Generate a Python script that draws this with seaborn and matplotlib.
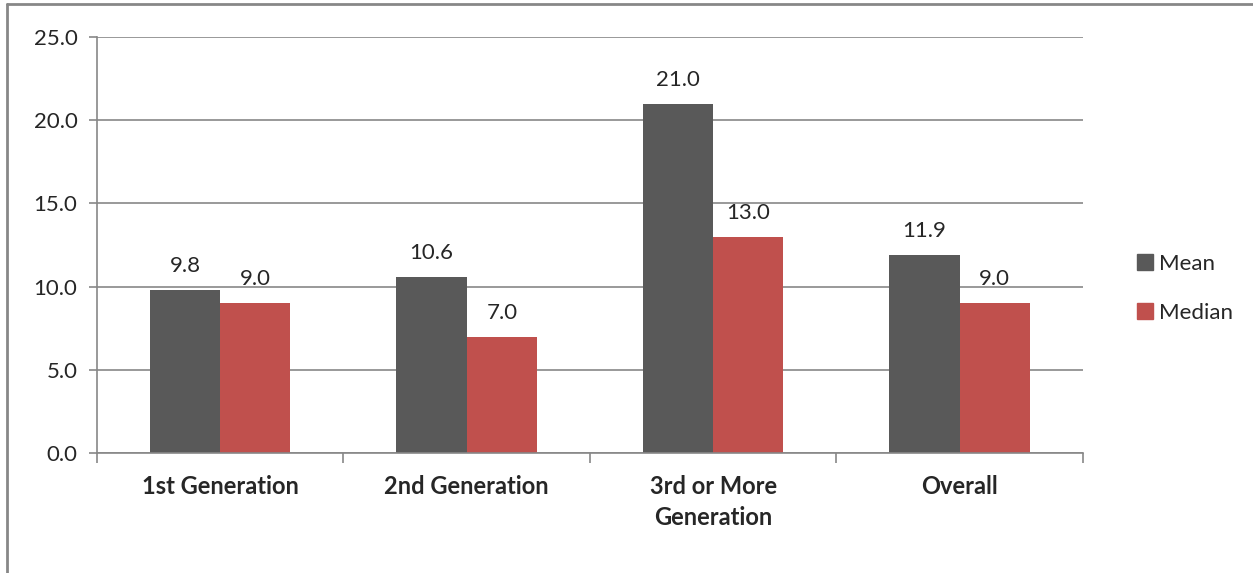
import pandas as pd
import matplotlib.pyplot as plt
import seaborn as sns
from matplotlib.lines import Line2D

categories = ["1st Generation", "2nd Generation", "3rd or More\nGeneration", "Overall"]
mean_vals = [9.8, 10.6, 21.0, 11.9]
median_vals = [9.0, 7.0, 13.0, 9.0]
series = ["Mean", "Median"]
colors = {"Mean": "#595959", "Median": "#C0504D"}

df = pd.DataFrame({
    "category": categories * 2,
    "value": mean_vals + median_vals,
    "stat": ["Mean"] * 4 + ["Median"] * 4,
})

sns.set_style("white")
plt.rcParams["font.family"] = ["Lato", "DejaVu Sans"]
fs = 16

fig = plt.figure(figsize=(12.53, 5.73), dpi=100)
ax = fig.add_axes([0.0774, 0.2094, 0.7869, 0.726])

sns.barplot(data=df, x="category", y="value", hue="stat", palette=colors,
            width=0.57, ax=ax, legend=False, saturation=1, linewidth=0)

for cont in ax.containers:
    ax.bar_label(cont, fmt="%.1f", padding=10, fontsize=fs)

ax.set_ylim(0, 25)
ax.set_xlim(-0.5, 3.5)
ax.set_yticks([0, 5, 10, 15, 20, 25])
ax.set_yticklabels([f"{v:.1f}" for v in [0, 5, 10, 15, 20, 25]], fontsize=fs)
ax.yaxis.grid(True, color="#878787", linewidth=1.2)
ax.set_axisbelow(True)
ax.tick_params(axis="y", length=6, width=1.2, color="#878787", pad=8, left=True)
ax.set_xticks(range(4))
ax.set_xticklabels(categories, fontsize=17, fontweight="bold", linespacing=1.4)
ax.tick_params(axis="x", length=0, pad=16)
ax.set_xticks([-0.5, 0.5, 1.5, 2.5, 3.5], minor=True)
ax.tick_params(axis="x", which="minor", length=7, width=1.2, color="#878787", bottom=True)
ax.set_xlabel("")
ax.set_ylabel("")

for side in ["top", "right"]:
    ax.spines[side].set_visible(False)
for side in ["left", "bottom"]:
    ax.spines[side].set_color("#878787")
    ax.spines[side].set_linewidth(1.2)

handles = [Line2D([], [], marker="s", linestyle="", markersize=11,
                  color=colors[s]) for s in series]
fig.legend(handles, series, loc="center left", bbox_to_anchor=(0.889, 0.497),
           frameon=False, fontsize=fs, handletextpad=0.15, labelspacing=1.3,
           handlelength=1.0)

# outer frame (top and left edges only, as in the cropped original)
fig.add_artist(Line2D([0.0056, 1.0], [0.9925, 0.9925], transform=fig.transFigure,
                      color="#878787", linewidth=2))
fig.add_artist(Line2D([0.0056, 0.0056], [0.0, 0.9925], transform=fig.transFigure,
                      color="#878787", linewidth=2))

fig.savefig("out.png", dpi=100)
